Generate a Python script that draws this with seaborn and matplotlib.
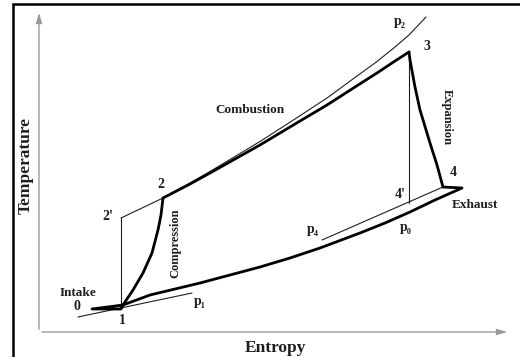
import matplotlib
matplotlib.use("Agg")
import matplotlib.pyplot as plt
import seaborn as sns

# T-s diagram of a gas turbine (Brayton) cycle, arbitrary units
# entropy (s) and temperature (T)

# compression 1 -> 2
comp_s = [8.4, 9.4, 10.4, 11.3, 11.9, 12.2, 12.4]
comp_T = [2.7, 4.2, 5.9, 7.9, 10.2, 11.7, 13.4]

# combustion 2 -> 3
comb_s = [12.4, 15.1, 17.1, 19.6, 22.1, 25.6, 28.8, 31.6, 33.8, 35.6, 37.0]
comb_T = [13.4, 14.8, 15.9, 17.3, 18.7, 20.8, 22.7, 24.5, 25.9, 27.1, 28.0]

# expansion 3 -> 4
exp_s = [37.0, 37.1, 37.6, 38.1, 39.1, 39.8, 40.4]
exp_T = [28.0, 27.2, 24.5, 22.2, 18.9, 16.7, 14.5]

# exhaust 4 -> 0, then intake 0 -> 1
exh_s = [40.4, 42.3, 39.6, 37.1, 34.6, 32.1, 28.1, 25.1, 22.1, 19.1, 16.1, 13.6, 11.1, 8.4, 5.3, 8.2, 8.4]
exh_T = [14.5, 14.4, 13.2, 12.0, 10.9, 9.9, 8.4, 7.4, 6.5, 5.7, 4.9, 4.3, 3.7, 2.7, 2.3, 2.3, 2.7]

# thin constant-pressure lines
p2_s = [8.2, 12.4, 15.1, 17.1, 19.6, 22.1, 25.6, 28.8, 31.6, 33.8, 35.6, 37.0, 38.7]
p2_T = [11.4, 13.4, 14.9, 16.05, 17.55, 19.05, 21.3, 23.4, 25.45, 27.05, 28.5, 29.7, 31.5]
p4_s = [28.3, 40.4]
p4_T = [9.2, 14.5]
p1_s = [3.9, 15.3]
p1_T = [1.5, 3.9]

# ideal (isentropic) paths 1 -> 2' and 3 -> 4'
ideal_comp_s = [8.2, 8.2]
ideal_comp_T = [2.5, 11.4]
ideal_exp_s = [37.0, 37.0]
ideal_exp_T = [28.0, 12.9]

# labels: (text, s, T)
point_labels = [("0", 3.8, 2.6), ("1", 8.3, 1.1), ("2'", 6.9, 11.6),
                ("2", 12.2, 14.8), ("3", 38.8, 28.6), ("4", 41.4, 15.9),
                ("4'", 36.1, 13.7)]
pressure_labels = [("p₂", 36.1, 31.0), ("p₁", 16.1, 3.0),
                   ("p₄", 27.4, 10.2), ("p₀", 36.7, 10.4)]
process_labels = [("Intake", 3.9, 3.9), ("Exhaust", 43.6, 12.7),
                  ("Combustion", 21.1, 22.2)]

sns.set_theme(style="white")
serif = ["Liberation Serif", "DejaVu Serif"]
ink = "#1e1e1e"

fig = plt.figure(figsize=(5.2, 3.57), dpi=100)
ax = fig.add_axes([0, 0, 1, 1])
ax.set_xlim(-3.9, 48.1)
ax.set_ylim(-2.5, 33.2)
ax.axis("off")

# outer frame (left and top edges)
ax.plot([-2.6, -2.6], [-2.6, 32.8], color="black", lw=1.8, clip_on=False)
ax.plot([-2.6, 48.2], [32.8, 32.8], color="black", lw=1.8, clip_on=False)

# axes arrows
ax.annotate("", xy=(0, 32.2), xytext=(0, 0),
            arrowprops=dict(arrowstyle="-|>,head_length=0.5,head_width=0.15",
                            color="#9a9a9a", lw=1.0))
ax.annotate("", xy=(47.1, 0), xytext=(0, 0),
            arrowprops=dict(arrowstyle="-|>,head_length=0.5,head_width=0.15",
                            color="#9a9a9a", lw=1.0))

thin = dict(color=ink, linewidth=0.8, sort=False, estimator=None, ax=ax)
thick = dict(color="black", linewidth=2.0, sort=False, estimator=None, ax=ax)

for s, T in [(p2_s, p2_T), (p4_s, p4_T), (p1_s, p1_T),
             (ideal_comp_s, ideal_comp_T), (ideal_exp_s, ideal_exp_T)]:
    sns.lineplot(x=s, y=T, **thin)

for s, T in [(comp_s, comp_T), (comb_s, comb_T), (exp_s, exp_T), (exh_s, exh_T)]:
    sns.lineplot(x=s, y=T, **thick)

for txt, s, T in point_labels + pressure_labels:
    ax.text(s, T, txt, fontsize=10, fontweight="bold", family=serif,
            color=ink, ha="center", va="center")
for txt, s, T in process_labels:
    ax.text(s, T, txt, fontsize=9.5, fontweight="bold", family=serif,
            color=ink, ha="center", va="center")

ax.text(13.6, 8.9, "Compression", rotation=90, fontsize=9, fontweight="bold",
        family=serif, color=ink, ha="center", va="center")
ax.text(40.8, 21.5, "Expansion", rotation=-90, fontsize=9, fontweight="bold",
        family=serif, color=ink, ha="center", va="center")

ax.text(23.6, -1.6, "Entropy", fontsize=12.5, fontweight="bold",
        family=serif, color=ink, ha="center", va="center")
ax.text(-1.3, 16.6, "Temperature", rotation=90, fontsize=12.5,
        fontweight="bold", family=serif, color=ink, ha="center", va="center")

fig.savefig("out.png", dpi=100)
